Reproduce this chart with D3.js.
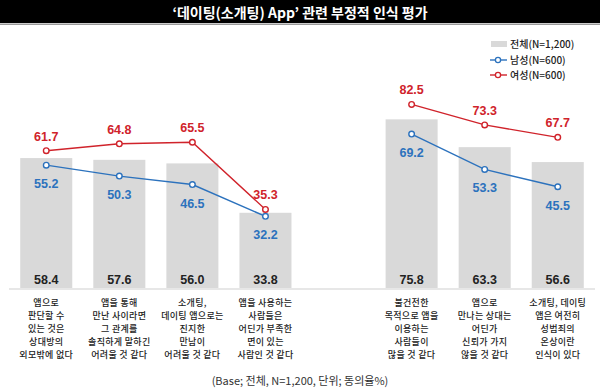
<!DOCTYPE html>
<html><head><meta charset="utf-8">
<script src="https://cdn.jsdelivr.net/npm/d3@7"></script>
<style>body{margin:0;background:#fff}svg{display:block}</style>
</head><body>
<script>
const title = "‘데이팅(소개팅) App’ 관련 부정적 인식 평가";
const categories = [
  ["앱으로","판단할 수","있는 것은","상대방의","외모밖에 없다"],
  ["앱을 통해","만난 사이라면","그 관계를","솔직하게 말하긴","어려울 것 같다"],
  ["소개팅,","데이팅 앱으로는","진지한","만남이","어려울 것 같다"],
  ["앱을 사용하는","사람들은","어딘가 부족한","면이 있는","사람인 것 같다"],
  ["불건전한","목적으로 앱을","이용하는","사람들이","많을 것 같다"],
  ["앱으로","만나는 상대는","어딘가","신뢰가 가지","않을 것 같다"],
  ["소개팅, 데이팅","앱은 여전히","성범죄의","온상이란","인식이 있다"]
];
const groupA = [0,1,2,3];
const groupB = [4,5,6];
const totalValues = [58.4, 57.6, 56.0, 33.8, 75.8, 63.3, 56.6];
const maleValues = [55.2, 50.3, 46.5, 32.2, 69.2, 53.3, 45.5];
const femaleValues = [61.7, 64.8, 65.5, 35.3, 82.5, 73.3, 67.7];
const legendLabels = ["전체(N=1,200)", "남성(N=600)", "여성(N=600)"];
const footnote = "(Base; 전체, N=1,200, 단위; 동의율%)";

const W = 600, H = 391;
const font = "'Noto Sans CJK KR', 'Noto Sans', sans-serif";
const numFont = "'Liberation Sans', Arial, sans-serif";
const cBar = "#d9d9d9", cMale = "#2c72bd", cFemale = "#d0232b";

const svg = d3.select("body").append("svg").attr("width", W).attr("height", H);

// title bar
svg.append("rect").attr("x",0).attr("y",0).attr("width",W).attr("height",23).attr("fill","#000");
svg.append("rect").attr("x",0).attr("y",23.5).attr("width",W).attr("height",1.5).attr("fill","#9a9a9a");
svg.append("text").attr("x",300).attr("y",17.5).attr("text-anchor","middle")
  .attr("fill","#fff").attr("font-family",font).attr("font-weight","bold").attr("font-size",14)
  .text(title);

// slots: group A, gap, group B
const slots = [...groupA.map(i=>"c"+i), "gap", ...groupB.map(i=>"c"+i)];
const x = d3.scaleBand().domain(slots).range([10, 594]).paddingInner(0.288).paddingOuter(0.14);
const y = d3.scaleLinear().domain([0, 100]).range([288, 65.5]);
const cx = i => x("c"+i) + x.bandwidth()/2;
const data = totalValues.map((v,i)=>({i, total:v, male:maleValues[i], female:femaleValues[i], lines:categories[i]}));

// bars
svg.append("g").selectAll("rect").data(data).join("rect")
  .attr("x", d=>x("c"+d.i)).attr("width", x.bandwidth())
  .attr("y", d=>y(d.total)).attr("height", d=>y(0)-y(d.total)).attr("fill", cBar);

// baseline
svg.append("line").attr("x1",9).attr("x2",595).attr("y1",289).attr("y2",289)
  .attr("stroke","#cfcfcf").attr("stroke-width",1.2);

// bar value labels
svg.append("g").selectAll("text").data(data).join("text")
  .attr("x", d=>cx(d.i)).attr("y", 283.5).attr("text-anchor","middle")
  .attr("font-family",numFont).attr("font-weight","bold").attr("font-size",12.5).attr("fill","#222")
  .text(d=>d.total.toFixed(1));

// lines per group
function drawSeries(key, color, labelDy) {
  const line = d3.line().x(d=>cx(d.i)).y(d=>y(d[key]));
  [groupA, groupB].forEach(g=>{
    svg.append("path").datum(g.map(i=>data[i])).attr("d", line)
      .attr("fill","none").attr("stroke",color).attr("stroke-width",1.4);
  });
  svg.append("g").selectAll("circle").data(data).join("circle")
    .attr("cx", d=>cx(d.i)).attr("cy", d=>y(d[key])).attr("r",2.8)
    .attr("fill","#fff").attr("stroke",color).attr("stroke-width",1.4);
  svg.append("g").selectAll("text").data(data).join("text")
    .attr("x", d=>cx(d.i)).attr("y", d=>y(d[key]) + labelDy).attr("text-anchor","middle")
    .attr("font-family",numFont).attr("font-weight","bold").attr("font-size",12.5).attr("fill",color)
    .text(d=>d[key].toFixed(1));
}
drawSeries("male", cMale, 23);
drawSeries("female", cFemale, -10);

// category labels (one text per line)
const catG = svg.append("g").attr("font-family",font).attr("font-size",9).attr("font-weight",500)
  .attr("fill","#222").attr("letter-spacing",0.3).attr("text-anchor","middle");
data.forEach(d=>{
  d.lines.forEach((t,j)=>{
    catG.append("text").attr("x", cx(d.i)).attr("y", 305.5 + j*13.1).text(t);
  });
});

// legend
const lg = svg.append("g").attr("font-family",font).attr("font-size",10).attr("font-weight",500).attr("fill","#222");
lg.append("rect").attr("x",491).attr("y",41).attr("width",16).attr("height",6).attr("fill",cBar);
lg.append("text").attr("x",510).attr("y",47.5).text(legendLabels[0]);
[[cMale,60,legendLabels[1]],[cFemale,75,legendLabels[2]]].forEach(([c,yy,t])=>{
  lg.append("line").attr("x1",490).attr("x2",507).attr("y1",yy).attr("y2",yy).attr("stroke",c).attr("stroke-width",1.4);
  lg.append("circle").attr("cx",498).attr("cy",yy).attr("r",2.6).attr("fill","#fff").attr("stroke",c).attr("stroke-width",1.3);
  lg.append("text").attr("x",510).attr("y",yy+3.5).text(t);
});

// footnote
svg.append("text").attr("x",300).attr("y",385).attr("text-anchor","middle")
  .attr("font-family",font).attr("font-size",11).attr("fill","#333").text(footnote);
</script>
</body></html>
